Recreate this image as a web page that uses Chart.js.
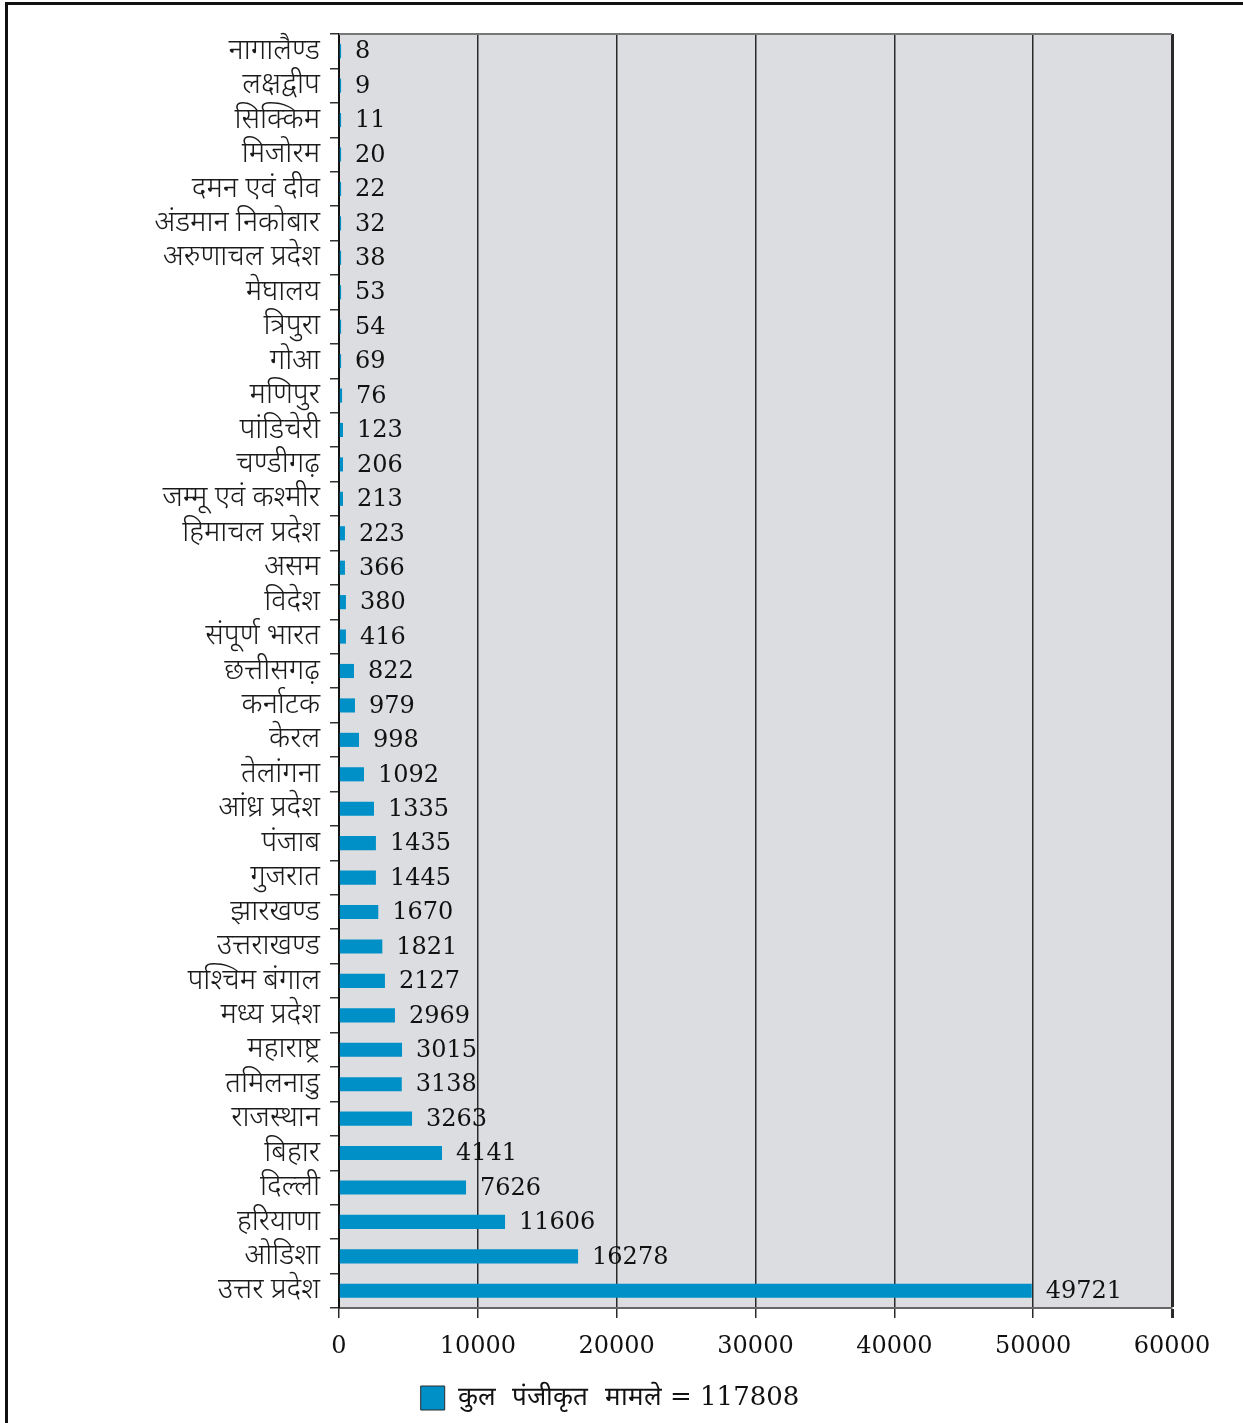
<!DOCTYPE html>
<html>
<head>
<meta charset="utf-8">
<script src="https://cdn.jsdelivr.net/npm/chart.js@4.4.0/dist/chart.umd.min.js"></script>
<style>
html, body { margin: 0; padding: 0; background: #fff; }
#wrap { position: relative; width: 1243px; height: 1423px; overflow: hidden; }
#frame { position: absolute; left: 5px; top: 2px; right: -10px; bottom: -10px; border-left: 3px solid #111; border-top: 3px solid #111; }
canvas { position: absolute; left: 0; top: 0; }
</style>
</head>
<body>
<div id="wrap">
  <div id="frame"></div>
  <canvas id="grafico" width="1243" height="1423"></canvas>
</div>
<script>
// states, top to bottom
const states = [
  'नागालैण्ड', 'लक्षद्वीप', 'सिक्किम', 'मिजोरम', 'दमन एवं दीव', 'अंडमान निकोबार',
  'अरुणाचल प्रदेश', 'मेघालय', 'त्रिपुरा', 'गोआ', 'मणिपुर', 'पांडिचेरी', 'चण्डीगढ़',
  'जम्मू एवं कश्मीर', 'हिमाचल प्रदेश', 'असम', 'विदेश', 'संपूर्ण भारत', 'छत्तीसगढ़',
  'कर्नाटक', 'केरल', 'तेलांगना', 'आंध्र प्रदेश', 'पंजाब', 'गुजरात', 'झारखण्ड',
  'उत्तराखण्ड', 'पश्चिम बंगाल', 'मध्य प्रदेश', 'महाराष्ट्र', 'तमिलनाडु', 'राजस्थान',
  'बिहार', 'दिल्ली', 'हरियाणा', 'ओडिशा', 'उत्तर प्रदेश'
];

// numbers printed next to the bars
const cases = [
  8, 9, 11, 20, 22, 32, 38, 53, 54, 69, 76, 123, 206, 213, 223, 366, 380, 416, 822,
  979, 998, 1092, 1335, 1435, 1445, 1670, 1821, 2127, 2969, 3015, 3138, 3263,
  4141, 7626, 11606, 16278, 49721
];

// bar lengths as drawn in the original picture (they do not follow the printed numbers)
const barLengths = [
  150, 150, 150, 150, 150, 150, 150, 150, 150, 150, 220, 290, 290, 290, 430, 430, 500, 500, 1080,
  1150, 1440, 1800, 2520, 2660, 2660, 2830, 3120, 3310, 4030, 4540, 4520, 5260,
  7420, 9150, 11960, 17220, 49900
];

const xTicks = [0, 10000, 20000, 30000, 40000, 50000, 60000];
const legendText = 'कुल  पंजीकृत  मामले = 117808';

const HINDI = '"Liberation Serif", "Noto Sans", serif';
const DIGITS = '"DejaVu Serif", "Liberation Serif", serif';

const plotBackground = {
  id: 'plotBackground',
  beforeDraw(chart) {
    const { ctx, chartArea: a } = chart;
    ctx.save();
    ctx.fillStyle = '#dcdde0';
    ctx.fillRect(a.left, a.top, a.right - a.left, a.bottom - a.top);
    ctx.restore();
  },
  afterDraw(chart) {
    const { ctx, chartArea: a } = chart;
    ctx.save();
    ctx.strokeStyle = '#777';
    ctx.lineWidth = 2;
    ctx.beginPath();
    ctx.moveTo(a.left, a.top);
    ctx.lineTo(a.right, a.top);
    ctx.stroke();
    ctx.restore();
  }
};

const valueLabels = {
  id: 'valueLabels',
  afterDatasetsDraw(chart) {
    const ctx = chart.ctx;
    const meta = chart.getDatasetMeta(0);
    ctx.save();
    ctx.font = '24px ' + DIGITS;
    ctx.fillStyle = '#111';
    ctx.textBaseline = 'middle';
    ctx.textAlign = 'left';
    meta.data.forEach((bar, i) => {
      ctx.fillText(String(cases[i]), bar.x + 14, bar.y + 1);
    });
    ctx.restore();
  }
};

const ctx = document.getElementById('grafico').getContext('2d');

new Chart(ctx, {
  type: 'bar',
  data: {
    labels: states,
    datasets: [{
      label: legendText,
      data: barLengths,
      backgroundColor: '#0090c8',
      borderWidth: 0,
      barPercentage: 0.82,
      categoryPercentage: 0.5
    }]
  },
  options: {
    indexAxis: 'y',
    responsive: false,
    animation: false,
    layout: {
      padding: { left: 48, right: 71, top: 34, bottom: 2 }
    },
    scales: {
      x: {
        min: 0,
        max: 60000,
        afterBuildTicks: scale => { scale.ticks = xTicks.map(v => ({ value: v })); },
        afterFit: scale => { scale.height = 67; },
        ticks: {
          color: '#111',
          font: { family: DIGITS, size: 24 },
          padding: 14,
          maxRotation: 0,
          callback: v => String(v)
        },
        grid: {
          color: '#2a2a2a',
          lineWidth: c => (c.tick && c.tick.value === 60000 ? 3 : 1.5),
          tickLength: 10
        },
        border: { color: '#666', width: 2 }
      },
      y: {
        afterFit: scale => { scale.width = 291; },
        ticks: {
          color: '#1a1a1a',
          font: { family: HINDI, size: 29, weight: '300' },
          padding: 10,
          autoSkip: false
        },
        grid: {
          offset: true,
          drawOnChartArea: false,
          drawTicks: true,
          tickLength: 9,
          color: '#333',
          lineWidth: 1.5
        },
        border: { color: '#111', width: 2 }
      }
    },
    plugins: {
      legend: {
        position: 'bottom',
        labels: {
          color: '#111',
          boxWidth: 24,
          boxHeight: 24,
          padding: 10,
          font: { family: DIGITS, size: 26, weight: '300' },
          generateLabels(chart) {
            const items = Chart.defaults.plugins.legend.labels.generateLabels(chart);
            items.forEach(it => { it.lineWidth = 1; it.strokeStyle = '#2a2a2a'; });
            return items;
          }
        }
      },
      tooltip: { enabled: false }
    }
  },
  plugins: [plotBackground, valueLabels]
});
</script>
</body>
</html>
